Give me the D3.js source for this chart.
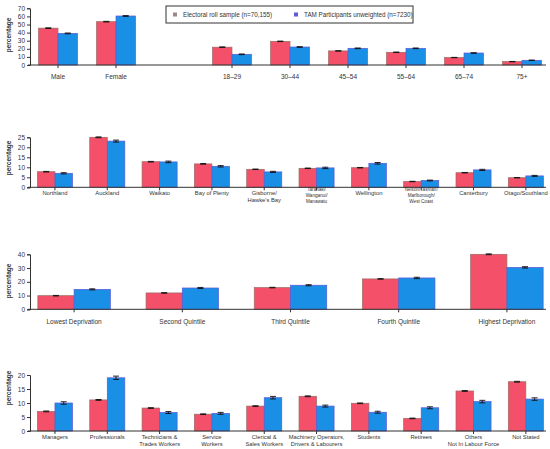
<!DOCTYPE html>
<html lang="en">
<head>
	<meta charset="utf-8">
	<title>Electoral roll vs TAM participants</title>
	<script src="https://d3js.org/d3.v7.min.js"></script>
	<style>
		body { margin: 0; background: #fff; }
		text { font-family: "Liberation Sans", Arial, sans-serif; fill: #333; }
	</style>
</head>
<body>
<div id="chart"></div>
<script>
	// ---- data (percentages) ----
	var seriesNames = ["Electoral roll sample (n=70,155)", "TAM Participants unweighted (n=7230)"];

	// panel 1: gender + age (blank slot between them)
	var demoCats = ["Male", "Female", "", "18\u201329", "30\u201344", "45\u201354", "55\u201364", "65\u201374", "75+"];
	var demoRoll = [45.5, 53.5, null, 22, 29.2, 17.4, 15.7, 9.2, 4.2];
	var demoTam = [39, 60.5, null, 13.2, 22.2, 20.6, 20.6, 14.8, 5.8];
	var demoRollErr = [0.4, 0.4, null, 0.3, 0.3, 0.3, 0.3, 0.2, 0.2];
	var demoTamErr = [0.5, 0.5, null, 0.4, 0.4, 0.4, 0.4, 0.4, 0.3];

	// panel 2: region
	var regionCats = ["Northland", "Auckland", "Waikato", "Bay of Plenty", "Gisborne/\nHawke's Bay",
		"Taranaki/\nWanganui/\nManawatu", "Wellington", "Nelson/Tasman/\nMarlborough/\nWest Coast", "Canterbury", "Otago/Southland"];
	var regionRoll = [7.8, 25, 12.8, 11.7, 9, 9.5, 9.8, 2.9, 7.3, 4.8];
	var regionTam = [7, 23.1, 12.7, 10.5, 7.7, 9.7, 12, 3.4, 8.7, 5.7];
	var regionRollErr = [0.15, 0.2, 0.15, 0.15, 0.12, 0.12, 0.12, 0.1, 0.12, 0.1];
	var regionTamErr = [0.3, 0.5, 0.4, 0.35, 0.3, 0.35, 0.4, 0.2, 0.3, 0.25];

	// panel 3: deprivation quintile
	var depCats = ["Lowest Deprivation", "Second Quintile", "Third Quintile", "Fourth Quintile", "Highest Deprivation"];
	var depRoll = [9.9, 11.9, 15.8, 22.1, 40];
	var depTam = [14.5, 15.5, 17.5, 22.8, 30.5];
	var depRollErr = [0.2, 0.2, 0.2, 0.2, 0.3];
	var depTamErr = [0.4, 0.4, 0.4, 0.5, 0.5];

	// panel 4: occupation
	var occCats = ["Managers", "Professionals", "Technicians &\nTrades Workers", "Service\nWorkers", "Clerical &\nSales Workers",
		"Machinery Operators,\nDrivers & Labourers", "Students", "Retirees", "Others\nNot In Labour Force", "Not Stated"];
	var occRoll = [7, 11.1, 8.2, 6, 8.9, 12.4, 9.9, 4.5, 14.3, 17.6];
	var occTam = [10, 19, 6.6, 6.3, 11.9, 8.9, 6.7, 8.3, 10.5, 11.4];
	var occRollErr = [0.15, 0.15, 0.12, 0.12, 0.12, 0.15, 0.12, 0.1, 0.15, 0.15];
	var occTamErr = [0.45, 0.6, 0.35, 0.35, 0.45, 0.35, 0.35, 0.35, 0.45, 0.45];

	var colors = ["#f4506a", "#1a8fe6"];
	var strokes = ["#9a6a62", "#5a58d8"];
	var markerColors = ["#9b8a84", "#5b5bdc"];

	var width = 550, height = 449;
	var svg = d3.select("#chart").append("svg")
		.attr("width", width)
		.attr("height", height);

	function drawPanel(cfg) {
		var x0 = d3.scaleBand()
			.domain(cfg.cats.map(function(d, i) { return i; }))
			.range(cfg.xRange)
			.paddingInner(0.33)
			.paddingOuter(0.165);
		var x1 = d3.scaleBand().domain([0, 1]).range([0, x0.bandwidth()]);
		var y = d3.scaleLinear().domain([0, cfg.max]).range([cfg.bottom, cfg.top]);

		var g = svg.append("g");

		// y axis
		var yAxis = g.append("g")
			.attr("transform", "translate(30,0)")
			.call(d3.axisLeft(y).tickValues(d3.range(0, cfg.max + 0.01, cfg.step)).tickSize(3).tickPadding(2));
		yAxis.select(".domain").attr("stroke", "#333");
		yAxis.selectAll(".tick line").attr("stroke", "#333");
		yAxis.selectAll(".tick text").style("font-size", "6.5px").attr("fill", "#333");

		g.append("text")
			.attr("transform", "translate(11," + cfg.labelY + ") rotate(-90)")
			.attr("text-anchor", "middle")
			.style("font-size", "6.5px")
			.style("font-weight", "bold")
			.attr("fill", "#222")
			.text("percentage");

		// bars
		var sets = [cfg.roll, cfg.tam];
		var errs = [cfg.rollErr, cfg.tamErr];
		sets.forEach(function(vals, s) {
			g.selectAll("rect.s" + s)
				.data(vals.map(function(v, i) { return {i: i, v: v, e: errs[s][i]}; }).filter(function(d) { return d.v !== null; }))
				.enter().append("rect")
				.attr("class", "s" + s)
				.attr("x", function(d) { return x0(d.i) + x1(s); })
				.attr("y", function(d) { return y(d.v); })
				.attr("width", x1.bandwidth())
				.attr("height", function(d) { return y(0) - y(d.v); })
				.attr("fill", colors[s])
				.attr("stroke", strokes[s])
				.attr("stroke-width", 0.7);
		});
		// error bars
		sets.forEach(function(vals, s) {
			var eg = g.selectAll("g.err" + s)
				.data(vals.map(function(v, i) { return {i: i, v: v, e: errs[s][i]}; }).filter(function(d) { return d.v !== null; }))
				.enter().append("g")
				.attr("class", "err" + s)
				.attr("stroke", "#111")
				.attr("stroke-width", 0.9);
			var cx = function(d) { return x0(d.i) + x1(s) + x1.bandwidth() / 2; };
			eg.append("line")
				.attr("x1", cx).attr("x2", cx)
				.attr("y1", function(d) { return y(d.v + d.e); })
				.attr("y2", function(d) { return y(d.v - d.e); });
			[1, -1].forEach(function(sign) {
				eg.append("line")
					.attr("x1", function(d) { return cx(d) - 3; })
					.attr("x2", function(d) { return cx(d) + 3; })
					.attr("y1", function(d) { return y(d.v + sign * d.e); })
					.attr("y2", function(d) { return y(d.v + sign * d.e); });
			});
		});

		// x axis line and ticks
		g.append("line")
			.attr("x1", 28).attr("x2", 546)
			.attr("y1", y(0)).attr("y2", y(0))
			.attr("stroke", "#333").attr("stroke-width", 1);
		var labels = g.selectAll("g.xl")
			.data(cfg.cats.map(function(c, i) { return {i: i, c: c}; }).filter(function(d) { return d.c !== ""; }))
			.enter().append("g")
			.attr("class", "xl")
			.attr("transform", function(d) { return "translate(" + (x0(d.i) + x0.bandwidth() / 2) + "," + y(0) + ")"; });
		labels.append("line")
			.attr("y1", 0).attr("y2", 3)
			.attr("stroke", "#333");
		labels.each(function(d) {
			var lines = d.c.split("\n");
			var small = lines.length > 2;
			var fs = small ? 4.6 : cfg.fontSize;
			var lh = small ? 6 : cfg.lineHeight;
			var t = d3.select(this).append("text")
				.attr("text-anchor", "middle")
				.style("font-size", fs + "px")
				.attr("fill", "#222");
			lines.forEach(function(l, k) {
				t.append("tspan")
					.attr("x", 0)
					.attr("y", (small ? 4 : cfg.labelOffset) + k * lh)
					.text(l);
			});
		});
	}

	drawPanel({cats: demoCats, roll: demoRoll, tam: demoTam, rollErr: demoRollErr, tamErr: demoTamErr,
		max: 70, step: 10, top: 8.3, bottom: 65, xRange: [29, 551], labelY: 35,
		fontSize: 6.5, lineHeight: 7, labelOffset: 14});
	drawPanel({cats: regionCats, roll: regionRoll, tam: regionTam, rollErr: regionRollErr, tamErr: regionTamErr,
		max: 25, step: 5, top: 137.3, bottom: 187.3, xRange: [28.8, 552], labelY: 158,
		fontSize: 5.8, lineHeight: 7, labelOffset: 7.5});
	drawPanel({cats: depCats, roll: depRoll, tam: depTam, rollErr: depRollErr, tamErr: depTamErr,
		max: 40, step: 10, top: 254.3, bottom: 309.3, xRange: [20, 561], labelY: 281,
		fontSize: 6.5, lineHeight: 7, labelOffset: 14.5});
	drawPanel({cats: occCats, roll: occRoll, tam: occTam, rollErr: occRollErr, tamErr: occTamErr,
		max: 20, step: 5, top: 375, bottom: 431, xRange: [28.8, 552], labelY: 388,
		fontSize: 5.8, lineHeight: 7, labelOffset: 7.5});

	// legend
	var legend = svg.append("g");
	legend.append("rect")
		.attr("x", 166).attr("y", 6).attr("width", 247).attr("height", 17)
		.attr("fill", "#fff").attr("stroke", "#333").attr("stroke-width", 1);
	var legX = [173, 294];
	seriesNames.forEach(function(name, s) {
		legend.append("rect")
			.attr("x", legX[s]).attr("y", 12.5).attr("width", 4).attr("height", 4)
			.attr("fill", markerColors[s]);
		legend.append("text")
			.attr("x", legX[s] + 10).attr("y", 17)
			.style("font-size", "6.3px")
			.attr("fill", "#222")
			.text(name);
	});
</script>
</body>
</html>
